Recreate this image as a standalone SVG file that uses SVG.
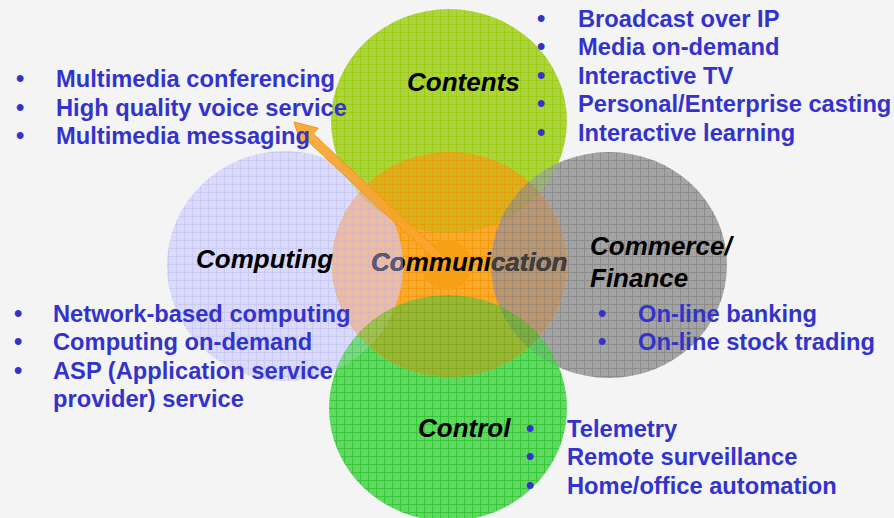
<svg xmlns="http://www.w3.org/2000/svg" width="894" height="518" viewBox="0 0 894 518">
<style>
.lbl{font-family:"Liberation Sans",Arial,sans-serif;font-weight:bold;font-style:italic;font-size:26px;fill:#000}
.lst{font-family:"Liberation Sans",Arial,sans-serif;font-weight:bold;font-size:23.7px;fill:#3333cc}
.gl{fill:none;stroke-width:1}
</style>
<defs>
<clipPath id="cA"><ellipse cx="449" cy="121" rx="118" ry="112"/></clipPath>
<clipPath id="cB"><ellipse cx="285" cy="266" rx="118" ry="115"/></clipPath>
<clipPath id="cC"><ellipse cx="449.5" cy="264.5" rx="117.5" ry="112.5"/></clipPath>
<clipPath id="cD"><ellipse cx="609" cy="265" rx="118" ry="113"/></clipPath>
<clipPath id="cE"><ellipse cx="448" cy="408" rx="119" ry="113"/></clipPath>
<pattern id="pA" width="8" height="8" patternUnits="userSpaceOnUse"><rect width="8" height="8" fill="#acd43c"/><path class="gl" d="M0 0.5H8M0.5 0V8" stroke="#9ccb18"/></pattern>
<pattern id="pB" width="8" height="8" patternUnits="userSpaceOnUse"><rect width="8" height="8" fill="#dadafc"/><path class="gl" d="M0 0.5H8M0.5 0V8" stroke="#cacaf2"/></pattern>
<pattern id="pC" width="8" height="8" patternUnits="userSpaceOnUse"><rect width="8" height="8" fill="#f9a92e"/><path class="gl" d="M0 0.5H8M0.5 0V8" stroke="#f39a0c"/></pattern>
<pattern id="pD" width="8" height="8" patternUnits="userSpaceOnUse"><rect width="8" height="8" fill="#a4a4a4"/><path class="gl" d="M0 0.5H8M0.5 0V8" stroke="#8c8c8c"/></pattern>
<pattern id="pE" width="8" height="8" patternUnits="userSpaceOnUse"><rect width="8" height="8" fill="#5fd95f"/><path class="gl" d="M0 0.5H8M0.5 0V8" stroke="#3ac63a"/></pattern>
<pattern id="pAB" width="8" height="8" patternUnits="userSpaceOnUse"><rect width="8" height="8" fill="#c0d89a"/><path class="gl" d="M0 0.5H8M0.5 0V8" stroke="#b2c8b8"/></pattern>
<pattern id="pAC" width="8" height="8" patternUnits="userSpaceOnUse"><rect width="8" height="8" fill="#d8b020"/><path class="gl" d="M0 0.5H8M0.5 0V8" stroke="#e2a008"/></pattern>
<pattern id="pAD" width="8" height="8" patternUnits="userSpaceOnUse"><rect width="8" height="8" fill="#9cb47c"/><path class="gl" d="M0 0.5H8M0.5 0V8" stroke="#889a70"/></pattern>
<pattern id="pBC" width="8" height="8" patternUnits="userSpaceOnUse"><rect width="8" height="8" fill="#ecbc9e"/><path class="gl" d="M0 0.5H8M0.5 0V8" stroke="#dcb6be"/></pattern>
<pattern id="pBE" width="8" height="8" patternUnits="userSpaceOnUse"><rect width="8" height="8" fill="#7ad886"/><path class="gl" d="M0 0.5H8M0.5 0V8" stroke="#5cc864"/></pattern>
<pattern id="pCD" width="8" height="8" patternUnits="userSpaceOnUse"><rect width="8" height="8" fill="#bc966e"/><path class="gl" d="M0 0.5H8M0.5 0V8" stroke="#a08a74"/></pattern>
<pattern id="pCE" width="8" height="8" patternUnits="userSpaceOnUse"><rect width="8" height="8" fill="#9ab636"/><path class="gl" d="M0 0.5H8M0.5 0V8" stroke="#84aa22"/></pattern>
<pattern id="pDE" width="8" height="8" patternUnits="userSpaceOnUse"><rect width="8" height="8" fill="#62c862"/><path class="gl" d="M0 0.5H8M0.5 0V8" stroke="#52aa52"/></pattern>
<pattern id="pABC" width="8" height="8" patternUnits="userSpaceOnUse"><rect width="8" height="8" fill="#dcb878"/><path class="gl" d="M0 0.5H8M0.5 0V8" stroke="#d0b090"/></pattern>
<pattern id="pACD" width="8" height="8" patternUnits="userSpaceOnUse"><rect width="8" height="8" fill="#b09a5a"/><path class="gl" d="M0 0.5H8M0.5 0V8" stroke="#9a8a66"/></pattern>
<pattern id="pBCE" width="8" height="8" patternUnits="userSpaceOnUse"><rect width="8" height="8" fill="#a2be54"/><path class="gl" d="M0 0.5H8M0.5 0V8" stroke="#8ab040"/></pattern>
<pattern id="pCDE" width="8" height="8" patternUnits="userSpaceOnUse"><rect width="8" height="8" fill="#7cac46"/><path class="gl" d="M0 0.5H8M0.5 0V8" stroke="#6a9a3c"/></pattern>
</defs>
<rect width="894" height="518" fill="#f4f4f4"/>
<g id="node-contents"><ellipse cx="449" cy="121" rx="118" ry="112" fill="url(#pA)"/></g>
<g id="node-computing"><ellipse cx="285" cy="266" rx="118" ry="115" fill="url(#pB)"/></g>
<g id="node-commerce"><ellipse cx="609" cy="265" rx="118" ry="113" fill="url(#pD)"/></g>
<g id="node-control"><ellipse cx="448" cy="408" rx="119" ry="113" fill="url(#pE)"/></g>
<g id="node-communication"><ellipse cx="449.5" cy="264.5" rx="117.5" ry="112.5" fill="url(#pC)"/></g>
<g id="overlaps">
<ellipse cx="285" cy="266" rx="118" ry="115" fill="url(#pAB)" clip-path="url(#cA)"/>
<ellipse cx="449.5" cy="264.5" rx="117.5" ry="112.5" fill="url(#pAC)" clip-path="url(#cA)"/>
<ellipse cx="609" cy="265" rx="118" ry="113" fill="url(#pAD)" clip-path="url(#cA)"/>
<ellipse cx="449.5" cy="264.5" rx="117.5" ry="112.5" fill="url(#pBC)" clip-path="url(#cB)"/>
<ellipse cx="448" cy="408" rx="119" ry="113" fill="url(#pBE)" clip-path="url(#cB)"/>
<ellipse cx="609" cy="265" rx="118" ry="113" fill="url(#pCD)" clip-path="url(#cC)"/>
<ellipse cx="448" cy="408" rx="119" ry="113" fill="url(#pCE)" clip-path="url(#cC)"/>
<ellipse cx="448" cy="408" rx="119" ry="113" fill="url(#pDE)" clip-path="url(#cD)"/>
<g clip-path="url(#cA)"><ellipse cx="449.5" cy="264.5" rx="117.5" ry="112.5" fill="url(#pABC)" clip-path="url(#cB)"/></g>
<g clip-path="url(#cA)"><ellipse cx="449.5" cy="264.5" rx="117.5" ry="112.5" fill="url(#pACD)" clip-path="url(#cD)"/></g>
<g clip-path="url(#cB)"><ellipse cx="449.5" cy="264.5" rx="117.5" ry="112.5" fill="url(#pBCE)" clip-path="url(#cE)"/></g>
<g clip-path="url(#cD)"><ellipse cx="449.5" cy="264.5" rx="117.5" ry="112.5" fill="url(#pCDE)" clip-path="url(#cE)"/></g>
<circle cx="447" cy="265" r="25" fill="#f8a014"/>
</g>
<g id="connectors">
<polygon points="294,122 318.2,128.2 313.1,133.7 450.1,261.7 443.9,268.3 306.9,140.3 301.8,145.8" fill="#f8a42c" fill-opacity="0.9" stroke="#f09418" stroke-width="1"/>
</g>
<g id="label-communication">
<text class="lbl" x="371" y="271">Communication</text>
<text class="lbl" x="371" y="271" style="fill:#5a5a7a" clip-path="url(#cB)">Communication</text>
<text class="lbl" x="371" y="271" style="fill:#404040" clip-path="url(#cD)">Communication</text>
</g>
<g id="label-contents">
<text class="lbl" x="407" y="91">Contents</text>
<text class="lst" x="537" y="26.5">•</text><text class="lst" x="578" y="26.5">Broadcast over IP</text>
<text class="lst" x="537" y="55">•</text><text class="lst" x="578" y="55">Media on-demand</text>
<text class="lst" x="537" y="83.5">•</text><text class="lst" x="578" y="83.5">Interactive TV</text>
<text class="lst" x="537" y="112">•</text><text class="lst" x="578" y="112">Personal/Enterprise casting</text>
<text class="lst" x="537" y="140.5">•</text><text class="lst" x="578" y="140.5">Interactive learning</text>
</g>
<g id="label-communication-list">
<text class="lst" x="16" y="87">•</text><text class="lst" x="56" y="87">Multimedia conferencing</text>
<text class="lst" x="16" y="115.5">•</text><text class="lst" x="56" y="115.5">High quality voice service</text>
<text class="lst" x="16" y="144">•</text><text class="lst" x="56" y="144">Multimedia messaging</text>
</g>
<g id="label-computing">
<text class="lbl" x="196" y="268">Computing</text>
<text class="lst" x="14" y="321.5">•</text><text class="lst" x="53" y="321.5">Network-based computing</text>
<text class="lst" x="14" y="350">•</text><text class="lst" x="53" y="350">Computing on-demand</text>
<text class="lst" x="14" y="378.5">•</text><text class="lst" x="53" y="378.5">ASP (Application service</text>
<text class="lst" x="53" y="407">provider) service</text>
</g>
<g id="label-commerce">
<text class="lbl" x="590" y="255">Commerce/</text>
<text class="lbl" x="590" y="287">Finance</text>
<text class="lst" x="598" y="321.5">•</text><text class="lst" x="638" y="321.5">On-line banking</text>
<text class="lst" x="598" y="350">•</text><text class="lst" x="638" y="350">On-line stock trading</text>
</g>
<g id="label-control">
<text class="lbl" x="418" y="437">Control</text>
<text class="lst" x="526" y="436.5">•</text><text class="lst" x="567" y="436.5">Telemetry</text>
<text class="lst" x="526" y="465">•</text><text class="lst" x="567" y="465">Remote surveillance</text>
<text class="lst" x="526" y="493.5">•</text><text class="lst" x="567" y="493.5">Home/office automation</text>
</g>
</svg>
